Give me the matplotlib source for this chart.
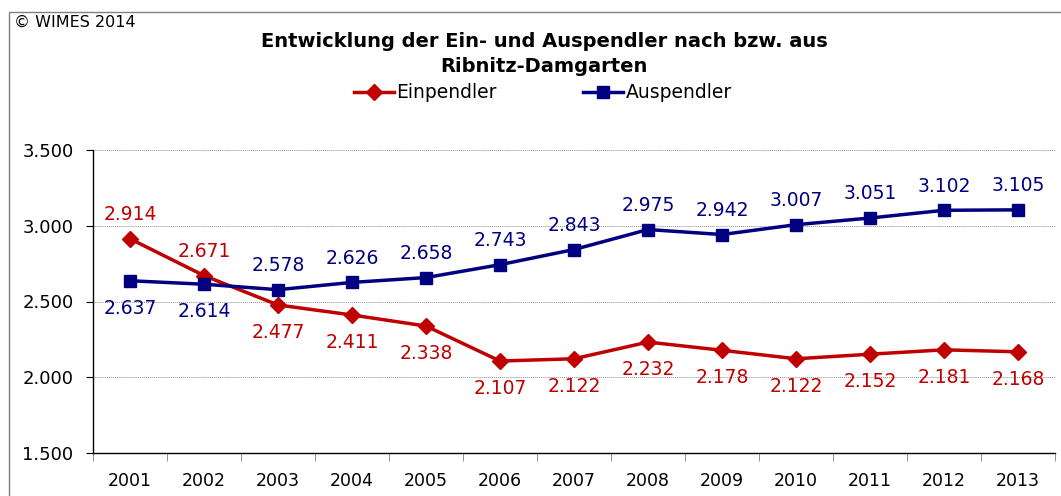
import matplotlib.pyplot as plt
from matplotlib.patches import Rectangle
from matplotlib.ticker import FuncFormatter, FixedLocator

years = ["2001", "2002", "2003", "2004", "2005", "2006", "2007",
         "2008", "2009", "2010", "2011", "2012", "2013"]
einpendler = [2914, 2671, 2477, 2411, 2338, 2107, 2122,
              2232, 2178, 2122, 2152, 2181, 2168]
auspendler = [2637, 2614, 2578, 2626, 2658, 2743, 2843,
              2975, 2942, 3007, 3051, 3102, 3105]
# label above (+1) or below (-1) the point
ein_pos = [1, 1, -1, -1, -1, -1, -1, -1, -1, -1, -1, -1, -1]
aus_pos = [-1, -1, 1, 1, 1, 1, 1, 1, 1, 1, 1, 1, 1]

red = "#C00000"
navy = "#000080"
plt.rcParams['font.family'] = ['DejaVu Sans']


def de_fmt(v, _=None):
    return f"{v:,.0f}".replace(",", ".")


W, H = 1061, 496
fig = plt.figure(figsize=(W / 100, H / 100), dpi=100)
fig.patches.append(Rectangle((9 / W, -0.1), 1.2, 1 - 12 / H + 0.1,
                             transform=fig.transFigure, fill=False,
                             edgecolor="#808080", linewidth=1))

ax = fig.add_axes([93 / W, 1 - 453 / H, 962 / W, 303 / H])
x = list(range(len(years)))
ax.plot(x, einpendler, color=red, lw=2.5, marker="D", ms=8.5, label="Einpendler")
ax.plot(x, auspendler, color=navy, lw=2.5, marker="s", ms=8.5, label="Auspendler")

for i in x:
    for vals, side, col in ((einpendler, ein_pos, red), (auspendler, aus_pos, navy)):
        p = side[i]
        off = 10.5 if p > 0 else 13
        ax.annotate(de_fmt(vals[i]), (i, vals[i]), xytext=(0, off * p),
                    textcoords="offset points", ha="center",
                    va="bottom" if p > 0 else "top", color=col, fontsize=13.5)

ax.set_xlim(-0.5, len(years) - 0.5)
ax.set_ylim(1500, 3500)
ax.set_yticks([1500, 2000, 2500, 3000, 3500])
ax.yaxis.set_major_formatter(FuncFormatter(de_fmt))
ax.set_xticks(x)
ax.set_xticklabels(years)
ax.xaxis.set_minor_locator(FixedLocator([i + 0.5 for i in range(-1, len(years))]))
ax.tick_params(axis="x", which="major", length=0, labelsize=12.5, pad=14)
ax.tick_params(axis="x", which="minor", length=6, color="#808080", direction="out")
ax.tick_params(axis="y", length=5, labelsize=13, pad=9)
ax.grid(axis="y", color="#909090", linestyle=(0, (1, 1)), linewidth=0.7)
for s in ("top", "right"):
    ax.spines[s].set_visible(False)
ax.spines["left"].set_linewidth(1)
ax.spines["bottom"].set_linewidth(1)

fig.text(14 / W, 1 - 22 / H, "© WIMES 2014", fontsize=11.5, va="center")
fig.text(544 / W, 1 - 54 / H,
         "Entwicklung der Ein- und Auspendler nach bzw. aus\nRibnitz-Damgarten",
         fontsize=14, fontweight="bold", ha="center", va="center", linespacing=1.35)
fig.legend(loc="center", bbox_to_anchor=(543 / W, 1 - 93 / H), ncol=2,
           frameon=False, fontsize=13.5, handlelength=2.1, columnspacing=4.6,
           handletextpad=0.15, borderaxespad=0)

fig.savefig("out.png", dpi=100)
